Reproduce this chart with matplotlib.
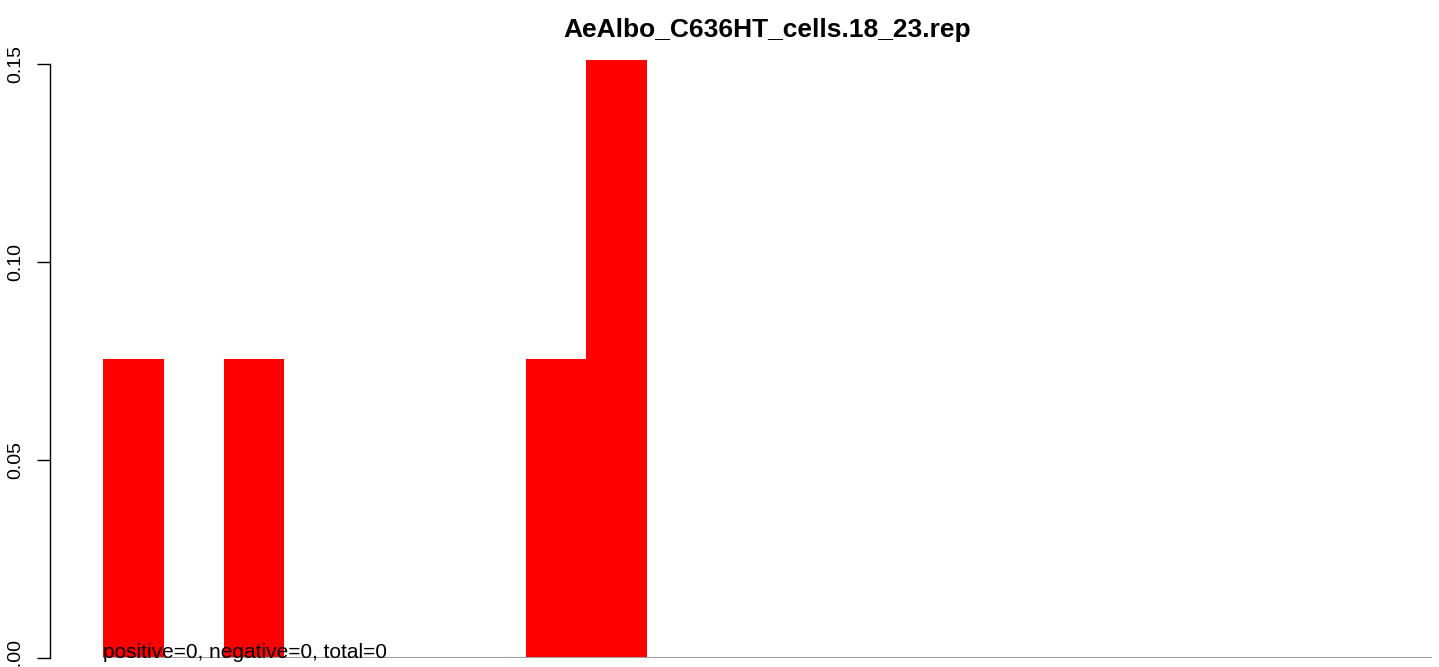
import matplotlib
matplotlib.use("Agg")
import matplotlib.pyplot as plt

plt.rcParams['font.family'] = ['Liberation Sans', 'DejaVu Sans']

# read-length fraction per bin, 22 bins
bins = list(range(22))
fractions = [0.0755, 0, 0.0755, 0, 0, 0, 0, 0.0755, 0.151, 0, 0,
             0, 0, 0, 0, 0, 0, 0, 0, 0, 0, 0]
title = "AeAlbo_C636HT_cells.18_23.rep"
note = "positive=0, negative=0, total=0"
yticks = [0.00, 0.05, 0.10, 0.15]

W, H = 1439, 667
fig = plt.figure(figsize=(W / 100, H / 100), dpi=100)
# plot region runs past the right edge of the canvas
left, right, bottom, top = 50, 1485, 658, 34
ax = fig.add_axes([left / W, (H - bottom) / H, (right - left) / W, (bottom - top) / H])

ax.bar(bins, fractions, width=1.0, align='edge', color='red', linewidth=0)
ax.plot([0, len(bins)], [0, 0], color='#a0a0a0', lw=1.5, solid_capstyle='butt')

ax.set_xlim(-0.88, len(bins) + 0.88)
ax.set_ylim(0, 0.1576)
ax.set_yticks(yticks)
ax.set_yticklabels([f"{v:.2f}" for v in yticks], rotation=90, va='center', fontsize=14)
ax.tick_params(axis='y', length=9.5, width=1, pad=9)
ax.set_xticks([])
for s in ['top', 'right', 'bottom']:
    ax.spines[s].set_visible(False)
ax.spines['left'].set_bounds(0, 0.15)
ax.spines['left'].set_linewidth(1)

# title centred over the full plot region
fig.text((left + right) / 2 / W, (H - 37) / H, title, fontsize=19,
         fontweight='bold', ha='center', va='baseline')
ax.text(0, 0, note, fontsize=15, ha='left', va='baseline')

fig.savefig("out.png", dpi=100)
